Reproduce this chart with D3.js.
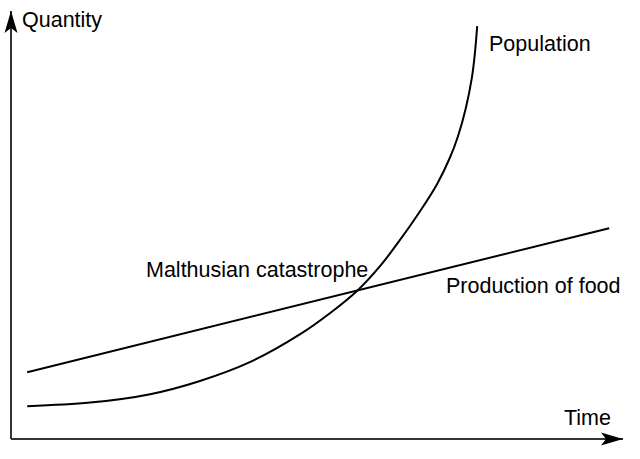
<!DOCTYPE html>
<html>
<head>
<meta charset="utf-8">
<script src="https://cdnjs.cloudflare.com/ajax/libs/d3/7.8.5/d3.min.js"></script>
<style>
    body { margin: 0; background: #fff; }
    svg text { font-family: "Liberation Sans", Arial, sans-serif; font-size: 21.5px; fill: #000; }
</style>
</head>
<body>
<svg id="chart" width="640" height="459"></svg>
<script>
// time / quantity in abstract units
var populationTime = [2.7, 13.2, 23.2, 31.5, 39.8, 48.2, 53.2, 57.8, 61.5, 64.8, 68.2, 71, 73.2, 74.5, 75.8, 76.8, 77.3, 77.7];
var populationQty  = [8.2, 9.1, 11.2, 14.5, 19.2, 26.2, 31.5, 37.2, 43.2, 49.7, 57, 63.7, 70.5, 75.7, 82.7, 90.2, 96.2, 103.2];
var foodTime = [2.7, 99.7];
var foodQty  = [16.7, 52.7];
var labels = ["Quantity", "Time", "Population", "Malthusian catastrophe", "Production of food"];

var svg = d3.select("svg#chart");
var x = d3.scaleLinear().domain([0, 100]).range([11, 611]);
var y = d3.scaleLinear().domain([0, 100]).range([439, 39]);

var defs = svg.append("defs");
defs.append("marker")
    .attr("id", "arrow")
    .attr("viewBox", "-23 -7 24 14")
    .attr("refX", 0)
    .attr("refY", 0)
    .attr("markerUnits", "userSpaceOnUse")
    .attr("markerWidth", 24)
    .attr("markerHeight", 14)
    .attr("orient", "auto")
    .append("path")
    .attr("d", "M0,0 L-22,-6.5 L-17,0 L-22,6.5 Z")
    .attr("fill", "#000");

// axes: plain lines with arrow heads
var axes = svg.append("g")
    .attr("stroke", "#333")
    .attr("stroke-width", 2)
    .attr("fill", "none");
axes.append("line")
    .attr("x1", x(0)).attr("y1", y(0))
    .attr("x2", x(0)).attr("y2", 11)
    .attr("marker-end", "url(#arrow)");
axes.append("line")
    .attr("x1", x(0)).attr("y1", y(0))
    .attr("x2", 623).attr("y2", y(0))
    .attr("marker-end", "url(#arrow)");

var line = d3.line()
    .x(function (d) { return x(d[0]); })
    .y(function (d) { return y(d[1]); })
    .curve(d3.curveCatmullRom.alpha(0.5));

svg.append("path")
    .datum(d3.zip(foodTime, foodQty))
    .attr("fill", "none")
    .attr("stroke", "#000")
    .attr("stroke-width", 2)
    .attr("d", line);

svg.append("path")
    .datum(d3.zip(populationTime, populationQty))
    .attr("fill", "none")
    .attr("stroke", "#000")
    .attr("stroke-width", 2)
    .attr("d", line);

svg.append("text").attr("x", 22).attr("y", 27).text(labels[0]);
svg.append("text").attr("x", 564).attr("y", 425).text(labels[1]);
svg.append("text").attr("x", 489).attr("y", 51).text(labels[2]);
svg.append("text").attr("x", 146).attr("y", 277).text(labels[3]);
svg.append("text").attr("x", 446).attr("y", 293).text(labels[4]);
</script>
</body>
</html>
